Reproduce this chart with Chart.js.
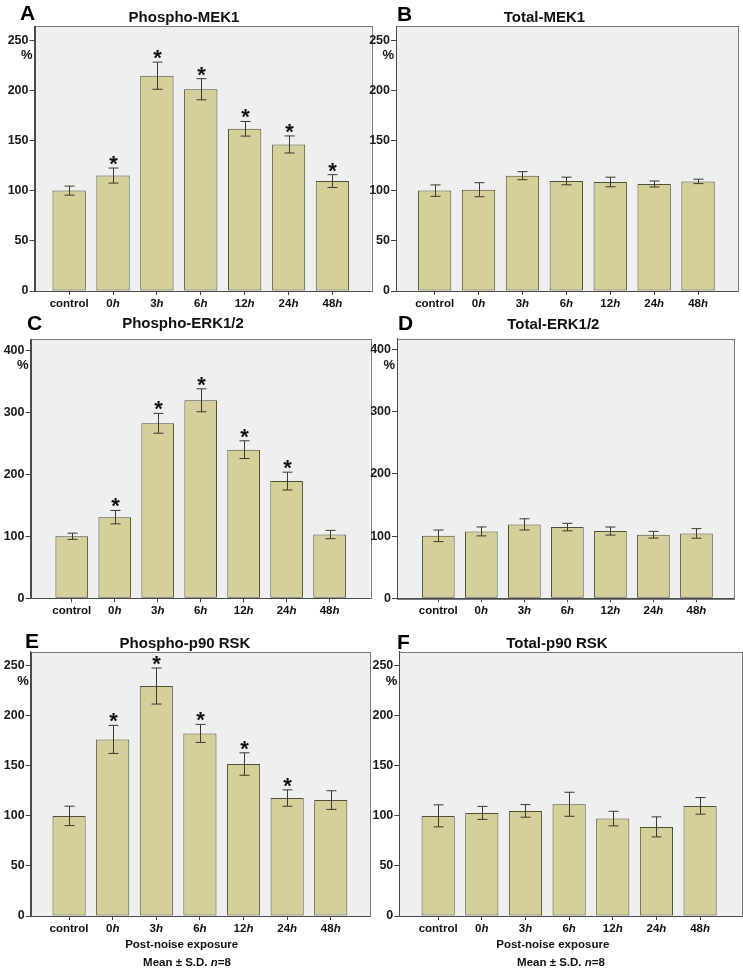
<!DOCTYPE html>
<html><head><meta charset="utf-8">
<script src="https://cdn.jsdelivr.net/npm/chart.js@4.4.1/dist/chart.umd.min.js"></script>
<style>
html,body{margin:0;padding:0;background:#fff;}
#wrap{position:relative;width:743px;height:970px;overflow:hidden;font-family:"Liberation Sans",Arial,sans-serif;}
canvas{position:absolute;left:0;top:0;}
.t{position:absolute;transform:translate(-50%,-50%);white-space:nowrap;font-weight:bold;color:#111;line-height:1;}
.L{position:absolute;font-weight:bold;font-size:21px;line-height:1;transform:translateY(-50%);color:#000;}
.ttl{font-size:15px;}
.ft{font-size:11.5px;}
.pct{position:absolute;font-weight:bold;font-size:13px;line-height:1;transform:translate(-100%,-50%);color:#111;}
</style></head>
<body><div id="wrap"></div>
<script>
// ---------- data ----------
const categories = ['control', '0h', '3h', '6h', '12h', '24h', '48h'];
const yTicks250 = [0, 50, 100, 150, 200, 250];
const yTicks400 = [0, 100, 200, 300, 400];

const phosphoMEK1    = [100, 115, 214.5, 201, 161.6, 146, 109.5];
const phosphoMEK1SD  = [4.5, 7.5, 13.5, 10.5, 7.3, 8.5, 6.4];
const phosphoMEK1Sig = [0, 1, 1, 1, 1, 1, 1];

const totalMEK1      = [100, 100.9, 114.9, 109.6, 108.6, 106.6, 109.2];
const totalMEK1SD    = [5.7, 7, 4, 3.8, 4.8, 3, 2.2];
const totalMEK1Sig   = [0, 0, 0, 0, 0, 0, 0];

const phosphoERK     = [100, 130.8, 282.1, 319.2, 239.6, 189, 102.8];
const phosphoERKSD   = [5, 10.8, 16, 18.5, 14.3, 14.3, 6.7];
const phosphoERKSig  = [0, 1, 1, 1, 1, 1, 0];

const totalERK       = [100.5, 107.6, 118.9, 114.6, 108.2, 102.3, 104.4];
const totalERKSD     = [9.3, 7.2, 9, 6, 6.5, 5.4, 7.7];
const totalERKSig    = [0, 0, 0, 0, 0, 0, 0];

const phosphoRSK     = [100, 176.4, 229.7, 182.4, 151.8, 117.8, 115.8];
const phosphoRSKSD   = [9.7, 14, 18, 9, 11.2, 8.2, 9.3];
const phosphoRSKSig  = [0, 1, 1, 1, 1, 1, 0];

const totalRSK       = [100, 103, 105, 111.6, 97.3, 89, 110];
const totalRSKSD     = [11, 6.5, 6.3, 12, 7.3, 10, 8.3];
const totalRSKSig    = [0, 0, 0, 0, 0, 0, 0];

const xAxisTitle = 'Post-noise exposure';
const noteText = 'Mean ± S.D. <i>n</i>=8';

// ---------- layout ----------
const W = 743, H = 970, YW = 30, XH = 20;
const FONT = '"Liberation Sans", Arial, sans-serif';
const panels = [
  {letter:'A', title:'Phospho-MEK1', v:phosphoMEK1, sd:phosphoMEK1SD, sig:phosphoMEK1Sig, ticks:yTicks250, yMax:264,
   box:{l:34.5,t:26,r:371,b:291}, xMin:-0.79, xMax:6.88, L:[20,12], T:[184,16]},
  {letter:'B', title:'Total-MEK1', v:totalMEK1, sd:totalMEK1SD, sig:totalMEK1Sig, ticks:yTicks250, yMax:264,
   box:{l:396,t:26,r:738,b:291}, xMin:-0.88, xMax:6.91, L:[397,13], T:[544.5,16]},
  {letter:'C', title:'Phospho-ERK1/2', v:phosphoERK, sd:phosphoERKSD, sig:phosphoERKSig, ticks:yTicks400, yMax:418,
   box:{l:30.5,t:339,r:370,b:598.3}, xMin:-0.96, xMax:6.94, L:[27,322], T:[183,322]},
  {letter:'D', title:'Total-ERK1/2', v:totalERK, sd:totalERKSD, sig:totalERKSig, ticks:yTicks400, yMax:418,
   box:{l:397,t:338.5,r:734.3,b:598.3}, xMin:-0.96, xMax:6.88, L:[398,322], T:[553.3,322.5]},
  {letter:'E', title:'Phospho-p90 RSK', v:phosphoRSK, sd:phosphoRSKSD, sig:phosphoRSKSig, ticks:yTicks250, yMax:264,
   box:{l:30.7,t:651.7,r:370,b:916}, xMin:-0.88, xMax:6.9, L:[25,640], T:[185,641.5], foot:[[181.7,945],[187,963]]},
  {letter:'F', title:'Total-p90 RSK', v:totalRSK, sd:totalRSKSD, sig:totalRSKSig, ticks:yTicks250, yMax:264,
   box:{l:399.3,t:651.7,r:742,b:916}, xMin:-0.89, xMax:6.96, L:[397,641], T:[557,641.7], foot:[[552.8,945],[561,963]]}
];

const wrap = document.getElementById('wrap');
function addDiv(cls, html, x, y) {
  const d = document.createElement('div');
  d.className = cls; d.innerHTML = html;
  d.style.left = x + 'px'; d.style.top = y + 'px';
  wrap.appendChild(d);
}

const panelPlugin = {
  id: 'panelPlugin',
  beforeDraw(chart) {
    const a = chart.chartArea, ctx = chart.ctx;
    ctx.save();
    ctx.fillStyle = '#efefef';
    ctx.fillRect(a.left, a.top, a.right - a.left, a.bottom - a.top);
    ctx.restore();
  },
  afterDatasetsDraw(chart) {
    const p = chart.config.options.plugins.panelPlugin.p;
    const xs = chart.scales.x, ys = chart.scales.y, ctx = chart.ctx;
    ctx.save();
    ctx.strokeStyle = '#3a3a2e';
    ctx.lineWidth = 1;
    p.v.forEach((v, i) => {
      const x = Math.round(xs.getPixelForValue(i)) + 0.5;
      const yt = ys.getPixelForValue(v + p.sd[i]);
      const yb = ys.getPixelForValue(v - p.sd[i]);
      ctx.beginPath();
      ctx.moveTo(x, yt); ctx.lineTo(x, yb);
      ctx.moveTo(x - 5, yt); ctx.lineTo(x + 5, yt);
      ctx.moveTo(x - 5, yb); ctx.lineTo(x + 5, yb);
      ctx.stroke();
      if (p.sig[i]) {
        ctx.fillStyle = '#111';
        ctx.font = 'bold 22px ' + FONT;
        ctx.textAlign = 'center';
        ctx.textBaseline = 'alphabetic';
        ctx.fillText('*', x, yt + 3);
      }
    });
    ctx.restore();
  },
  afterDraw(chart) {
    const a = chart.chartArea, ctx = chart.ctx, xs = chart.scales.x;
    ctx.save();
    ctx.strokeStyle = '#7a7a7a';
    ctx.lineWidth = 1;
    ctx.strokeRect(Math.round(a.left) + 0.5, Math.round(a.top) + 0.5, Math.round(a.right - a.left), Math.round(a.bottom - a.top));
    ctx.strokeStyle = '#4a4a4a';
    ctx.beginPath();
    ctx.moveTo(Math.round(a.left) + 0.5, Math.round(a.top));
    ctx.lineTo(Math.round(a.left) + 0.5, Math.round(a.bottom) + 0.5);
    ctx.lineTo(Math.round(a.right), Math.round(a.bottom) + 0.5);
    ctx.stroke();
    // category labels: number upright bold, "h" bold italic
    ctx.fillStyle = '#111';
    ctx.textBaseline = 'middle';
    ctx.textAlign = 'left';
    const fUp = 'bold 11.5px ' + FONT, fIt = 'italic bold 11.5px ' + FONT;
    categories.forEach((c, i) => {
      const cx = xs.getPixelForValue(i);
      const y = a.bottom + 12.5;
      const m = c.match(/^(\d+)(h)$/);
      if (m) {
        ctx.font = fUp; const w1 = ctx.measureText(m[1]).width;
        ctx.font = fIt; const w2 = ctx.measureText(m[2]).width;
        let x0 = cx - (w1 + w2) / 2;
        ctx.font = fUp; ctx.fillText(m[1], x0, y);
        ctx.font = fIt; ctx.fillText(m[2], x0 + w1, y);
      } else {
        ctx.font = fUp;
        const w = ctx.measureText(c).width;
        ctx.fillText(c, cx - w / 2, y);
      }
    });
    ctx.restore();
  }
};

panels.forEach(p => {
  const cv = document.createElement('canvas');
  cv.width = W; cv.height = H;
  cv.style.width = W + 'px'; cv.style.height = H + 'px';
  wrap.appendChild(cv);
  new Chart(cv, {
    type: 'bar',
    data: {
      datasets: [{
        data: p.v.map((v, i) => ({x: i, y: v})),
        backgroundColor: '#d5cf99',
        borderColor: '#505036',
        borderWidth: 1,
        borderSkipped: false,
        categoryPercentage: 1,
        barPercentage: 0.76
      }]
    },
    options: {
      responsive: false, animation: false, events: [],
      layout: {padding: {left: p.box.l - YW, top: p.box.t, right: W - p.box.r, bottom: H - p.box.b - XH}},
      plugins: {legend: {display: false}, tooltip: {enabled: false}, panelPlugin: {p}},
      scales: {
        x: {
          type: 'linear', min: p.xMin, max: p.xMax, offset: false,
          afterBuildTicks: s => { s.ticks = categories.map((c, i) => ({value: i})); },
          afterFit: s => { s.height = XH; },
          ticks: {display: false},
          grid: {offset: false, drawOnChartArea: false, drawTicks: true, tickLength: 4, color: '#444'},
          border: {display: true, color: '#4a4a4a'}
        },
        y: {
          min: 0, max: p.yMax,
          afterBuildTicks: s => { s.ticks = p.ticks.map(v => ({value: v})); },
          afterFit: s => { s.width = YW; },
          ticks: {font: {family: FONT, size: 12.5, weight: 'bold'}, color: '#1a1a1a', padding: 1, callback: v => String(v)},
          grid: {drawOnChartArea: false, drawTicks: true, tickLength: 5, color: '#444'},
          border: {display: true, color: '#4a4a4a'}
        }
      }
    },
    plugins: [panelPlugin]
  });
  addDiv('L', p.letter, p.L[0], p.L[1]);
  addDiv('t ttl', p.title, p.T[0], p.T[1]);
  const topTickY = p.box.b - (p.box.b - p.box.t) * p.ticks[p.ticks.length - 1] / p.yMax;
  addDiv('pct', '%', p.box.l - 2, topTickY + 14);
  if (p.foot) {
    addDiv('t ft', xAxisTitle, p.foot[0][0], p.foot[0][1]);
    addDiv('t ft', noteText, p.foot[1][0], p.foot[1][1]);
  }
});
</script>
</body></html>
